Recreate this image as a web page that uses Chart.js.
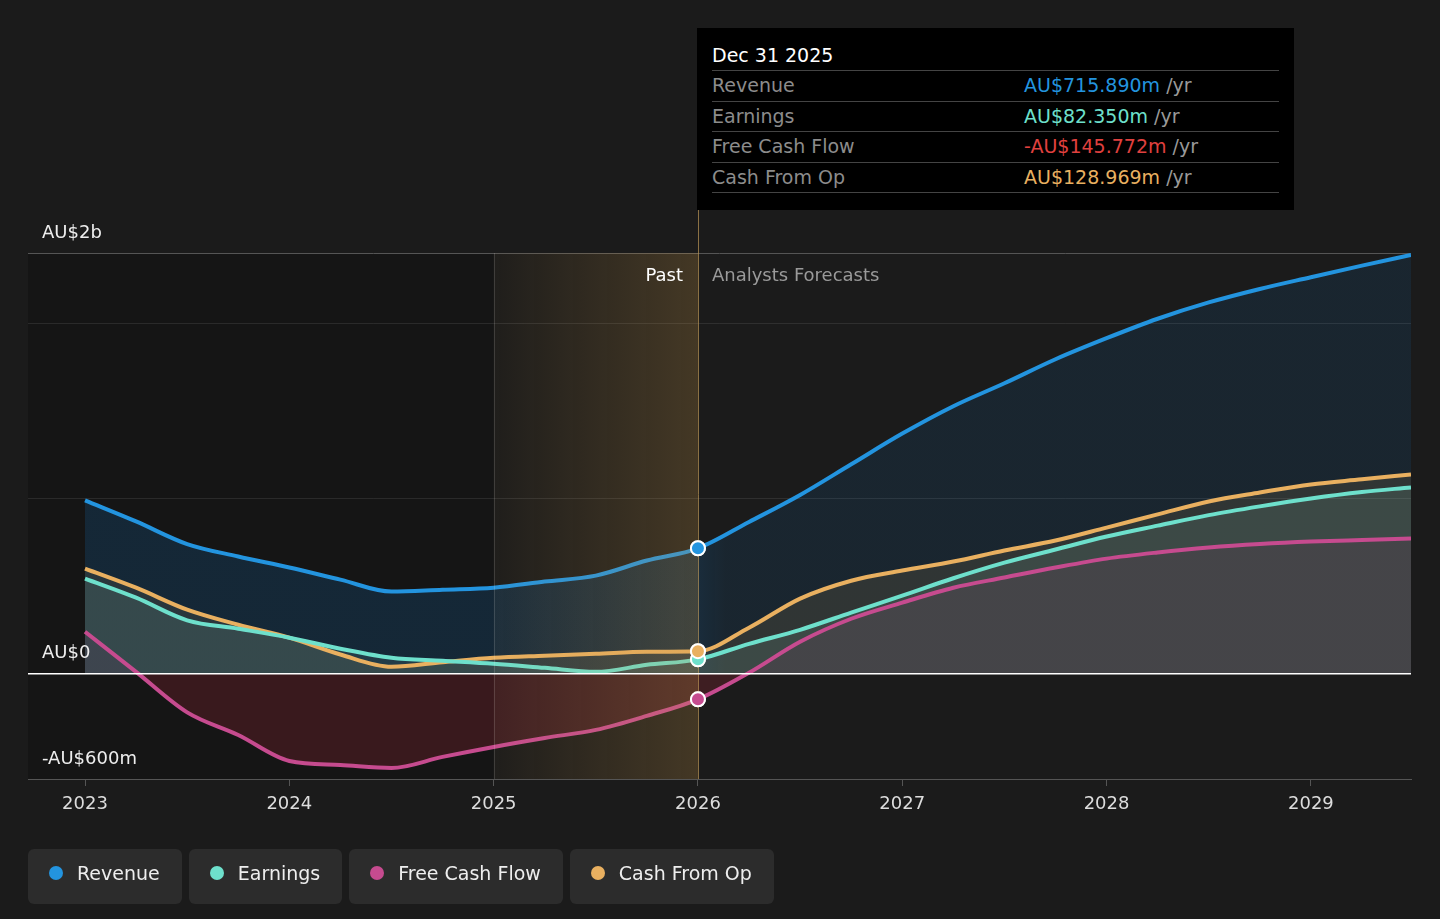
<!DOCTYPE html>
<html>
<head>
<meta charset="utf-8">
<script src="https://cdn.jsdelivr.net/npm/chart.js@4.4.1/dist/chart.umd.min.js"></script>
<style>
  html, body { margin: 0; padding: 0; background: #1b1b1b; }
  body { width: 1440px; height: 919px; position: relative; overflow: hidden; font-family: "DejaVu Sans", sans-serif; }
  #wrap { position: absolute; left: 0; top: 0; width: 1440px; height: 919px; }
  #tip { position: absolute; left: 697px; top: 28px; width: 597px; height: 182px; background: #000; }
  #tip .inner { position: absolute; left: 15px; top: 0; width: 567px; }
  #tip .title { height: 43px; box-sizing: border-box; padding-top: 16px; font-size: 19px; line-height: 22px; color: #fff; border-bottom: 1.5px solid #444; }
  #tip .row { height: 29.5px; border-bottom: 1.5px solid #444; position: relative; font-size: 19px; line-height: 29.5px; }
  #tip .row .lab { position: absolute; left: 0; color: #8c8c8c; }
  #tip .row .val { position: absolute; left: 312px; }
  #tip .row .unit { color: #999; }
  #legend { position: absolute; left: 28px; top: 849px; display: flex; gap: 7px; }
  .item { height: 55px; box-sizing: border-box; padding: 0 22px 7px 21px; background: #2c2c2c; border-radius: 6px; display: flex; align-items: center; font-size: 19px; color: #eee; }
  .dot { width: 14px; height: 14px; border-radius: 50%; margin-right: 14px; }
</style>
</head>
<body>
<div id="wrap"><canvas id="chart"></canvas></div>
<div id="tip"><div class="inner" id="tipInner"></div></div>
<div id="legend"></div>
<script>
// 数据
const years = [2023, 2023.25, 2023.5, 2023.75, 2024, 2024.25, 2024.5, 2024.75, 2025, 2025.25, 2025.5, 2025.75, 2026,
    2026.25, 2026.5, 2026.75, 2027, 2027.25, 2027.5, 2027.75, 2028, 2028.25, 2028.5, 2028.75, 2029, 2029.25, 2029.49];
const revenue = [989, 869, 740, 669, 606, 537, 469, 480, 491, 526, 560, 646, 715.89,
    866, 1020, 1195, 1370, 1526, 1657, 1794, 1914, 2025, 2118, 2195, 2262, 2328, 2389];
const earnings = [543, 434, 305, 257, 206, 143, 91, 74, 57, 34, 11, 51, 82.35,
    171, 251, 349, 446, 545, 634, 709, 783, 845, 905, 955, 1000, 1037, 1063];
const freeCashFlow = [240, 11, -220, -349, -497, -520, -537, -474, -417, -366, -320, -240, -145.772,
    6, 183, 314, 406, 491, 549, 606, 657, 692, 720, 740, 754, 763, 771];
const cashFromOp = [600, 491, 366, 280, 206, 110, 40, 66, 91, 103, 114, 126, 128.969,
    263, 429, 531, 589, 640, 703, 760, 834, 909, 983, 1034, 1080, 1109, 1137];
const tickYears = [2023, 2024, 2025, 2026, 2027, 2028, 2029];
const gridValues = [-600, 0, 1000, 2000, 2400];
const yLabelValues = [2400, 0, -600];
const yLabelTexts = ['AU$2b', 'AU$0', '-AU$600m'];
const seriesNames = ['Revenue', 'Earnings', 'Free Cash Flow', 'Cash From Op'];
const seriesColors = ['#2394df', '#6ee0cc', '#c64b8f', '#e9b060'];
const pastStart = 2025;
const nowYear = 2026;
const tipTitle = 'Dec 31 2025';

const FONT = '"DejaVu Sans", sans-serif';

function toPoints(arr) {
    return arr.map((v, i) => ({ x: years[i], y: v }));
}

// 营收填充：过去部分更深
function revenueFill(c) {
    const chart = c.chart;
    const ca = chart.chartArea;
    if (!ca || !chart.scales.x) return 'rgba(20,120,200,0.15)';
    const x = chart.scales.x.getPixelForValue(nowYear);
    const t = (x - ca.left) / (ca.right - ca.left);
    const g = chart.ctx.createLinearGradient(ca.left, 0, ca.right, 0);
    g.addColorStop(0, 'rgba(20,120,200,0.19)');
    g.addColorStop(t, 'rgba(20,120,200,0.19)');
    g.addColorStop(Math.min(1, t + 0.02), 'rgba(20,120,200,0.12)');
    g.addColorStop(1, 'rgba(20,120,200,0.12)');
    return g;
}

// 背景和标注
const decorPlugin = {
    id: 'decor',
    beforeDraw(chart) {
        const { ctx, chartArea, scales } = chart;
        const xPast = scales.x.getPixelForValue(pastStart);
        ctx.save();
        ctx.fillStyle = '#151515';
        ctx.fillRect(chartArea.left, chartArea.top, xPast - chartArea.left, chartArea.bottom - chartArea.top);
        ctx.restore();
    },
    afterDatasetsDraw(chart) {
        const { ctx, chartArea, scales } = chart;
        const x0 = scales.x.getPixelForValue(pastStart);
        const x1 = scales.x.getPixelForValue(nowYear);
        ctx.save();
        const g = ctx.createLinearGradient(x0, 0, x1, 0);
        g.addColorStop(0, 'rgba(200,150,70,0.03)');
        g.addColorStop(1, 'rgba(200,150,70,0.24)');
        ctx.fillStyle = g;
        ctx.fillRect(x0, chartArea.top, x1 - x0, chartArea.bottom - chartArea.top);
        // 分隔线
        ctx.lineWidth = 1;
        ctx.strokeStyle = 'rgba(255,255,255,0.14)';
        ctx.beginPath();
        ctx.moveTo(Math.round(x0) + 0.5, chartArea.top);
        ctx.lineTo(Math.round(x0) + 0.5, chartArea.bottom);
        ctx.stroke();
        ctx.strokeStyle = 'rgba(200,160,90,0.65)';
        ctx.beginPath();
        ctx.moveTo(Math.round(x1) + 0.5, 210);
        ctx.lineTo(Math.round(x1) + 0.5, chartArea.bottom);
        ctx.stroke();
        // 零线
        const yZero = scales.y.getPixelForValue(0);
        ctx.strokeStyle = '#ffffff';
        ctx.lineWidth = 1.5;
        ctx.beginPath();
        ctx.moveTo(chartArea.left, yZero);
        ctx.lineTo(chartArea.right, yZero);
        ctx.stroke();
        ctx.restore();
        // 当前点重画在覆盖层之上
        const idx = years.indexOf(nowYear);
        chart.data.datasets.forEach((d, i) => {
            const el = chart.getDatasetMeta(i).data[idx];
            if (el) el.draw(ctx, chartArea);
        });
    },
    afterDraw(chart) {
        const { ctx, chartArea, scales } = chart;
        const x1 = scales.x.getPixelForValue(nowYear);
        ctx.save();
        ctx.font = '18px ' + FONT;
        ctx.textBaseline = 'middle';
        ctx.fillStyle = '#ffffff';
        ctx.textAlign = 'right';
        ctx.fillText('Past', x1 - 15, chartArea.top + 23);
        ctx.textAlign = 'left';
        ctx.fillStyle = '#9a9a9a';
        ctx.fillText('Analysts Forecasts', x1 + 14, chartArea.top + 23);
        ctx.fillStyle = '#eeeeee';
        yLabelValues.forEach((v, i) => {
            const y = scales.y.getPixelForValue(v);
            ctx.fillText(yLabelTexts[i], chartArea.left + 14, y - 20);
        });
        ctx.restore();
    }
};

function makeDataset(i, arr, fillColor, fill) {
    return {
        label: seriesNames[i],
        data: toPoints(arr),
        borderColor: seriesColors[i],
        backgroundColor: fillColor,
        fill: fill || 'origin',
        borderWidth: 4,
        cubicInterpolationMode: 'monotone',
        pointRadius: ctx => (ctx.raw && ctx.raw.x === nowYear ? 7 : 0),
        pointBackgroundColor: seriesColors[i],
        pointBorderColor: '#ffffff',
        pointBorderWidth: 2
    };
}

const ctx = document.getElementById('chart').getContext('2d');
const chart = new Chart(ctx, {
    type: 'line',
    data: {
        datasets: [
            makeDataset(0, revenue, revenueFill),
            makeDataset(1, earnings, 'rgba(168,234,201,0.12)'),
            makeDataset(2, freeCashFlow, 'rgba(150,0,60,0.12)',
                { target: 'origin', above: 'rgba(150,0,60,0.12)', below: 'rgba(206,46,66,0.2)' }),
            makeDataset(3, cashFromOp, 'rgba(240,175,70,0.12)')
        ]
    },
    options: {
        responsive: true,
        maintainAspectRatio: false,
        animation: false,
        events: [],
        layout: { padding: { left: 28, right: 29, top: 253, bottom: 100 } },
        plugins: {
            legend: { display: false },
            tooltip: { enabled: false },
            filler: { drawTime: 'beforeDatasetsDraw' }
        },
        scales: {
            x: {
                type: 'linear',
                min: 2022.721,
                max: 2029.49,
                afterBuildTicks: s => { s.ticks = tickYears.map(v => ({ value: v })); },
                afterFit: s => { s.height = 40; },
                ticks: {
                    color: '#dddddd',
                    font: { family: FONT, size: 18 },
                    padding: 8,
                    autoSkip: false,
                    maxRotation: 0,
                    callback: v => String(v)
                },
                grid: { drawOnChartArea: false, drawTicks: true, tickLength: 7, color: '#555555' },
                border: { color: '#555555' }
            },
            y: {
                min: -600,
                max: 2400,
                afterBuildTicks: s => { s.ticks = gridValues.map(v => ({ value: v })); },
                afterFit: s => { s.width = 0; },
                ticks: { display: false },
                grid: {
                    drawTicks: false,
                    color: c => {
                        const v = c.tick.value;
                        if (v === 0) return '#ffffff';
                        if (v === 2400 || v === -600) return '#555555';
                        return 'rgba(255,255,255,0.09)';
                    }
                },
                border: { display: false }
            }
        }
    },
    plugins: [decorPlugin]
});

// 提示框
const nowIdx = years.indexOf(nowYear);
const tipValues = [revenue[nowIdx], earnings[nowIdx], freeCashFlow[nowIdx], cashFromOp[nowIdx]];
const tipColors = ['#2394df', '#6ee0cc', '#e0413f', '#e9b060'];
function fmt(v) {
    return (v < 0 ? '-' : '') + 'AU$' + Math.abs(v).toFixed(3) + 'm';
}
const tipInner = document.getElementById('tipInner');
let html = '<div class="title">' + tipTitle + '</div>';
seriesNames.forEach((n, i) => {
    html += '<div class="row"><span class="lab">' + n + '</span><span class="val"><span style="color:' +
        tipColors[i] + '">' + fmt(tipValues[i]) + '</span> <span class="unit">/yr</span></span></div>';
});
tipInner.innerHTML = html;

// 图例
const legend = document.getElementById('legend');
seriesNames.forEach((n, i) => {
    const item = document.createElement('div');
    item.className = 'item';
    item.innerHTML = '<span class="dot" style="background:' + seriesColors[i] + '"></span>' + n;
    legend.appendChild(item);
});
</script>
</body>
</html>
